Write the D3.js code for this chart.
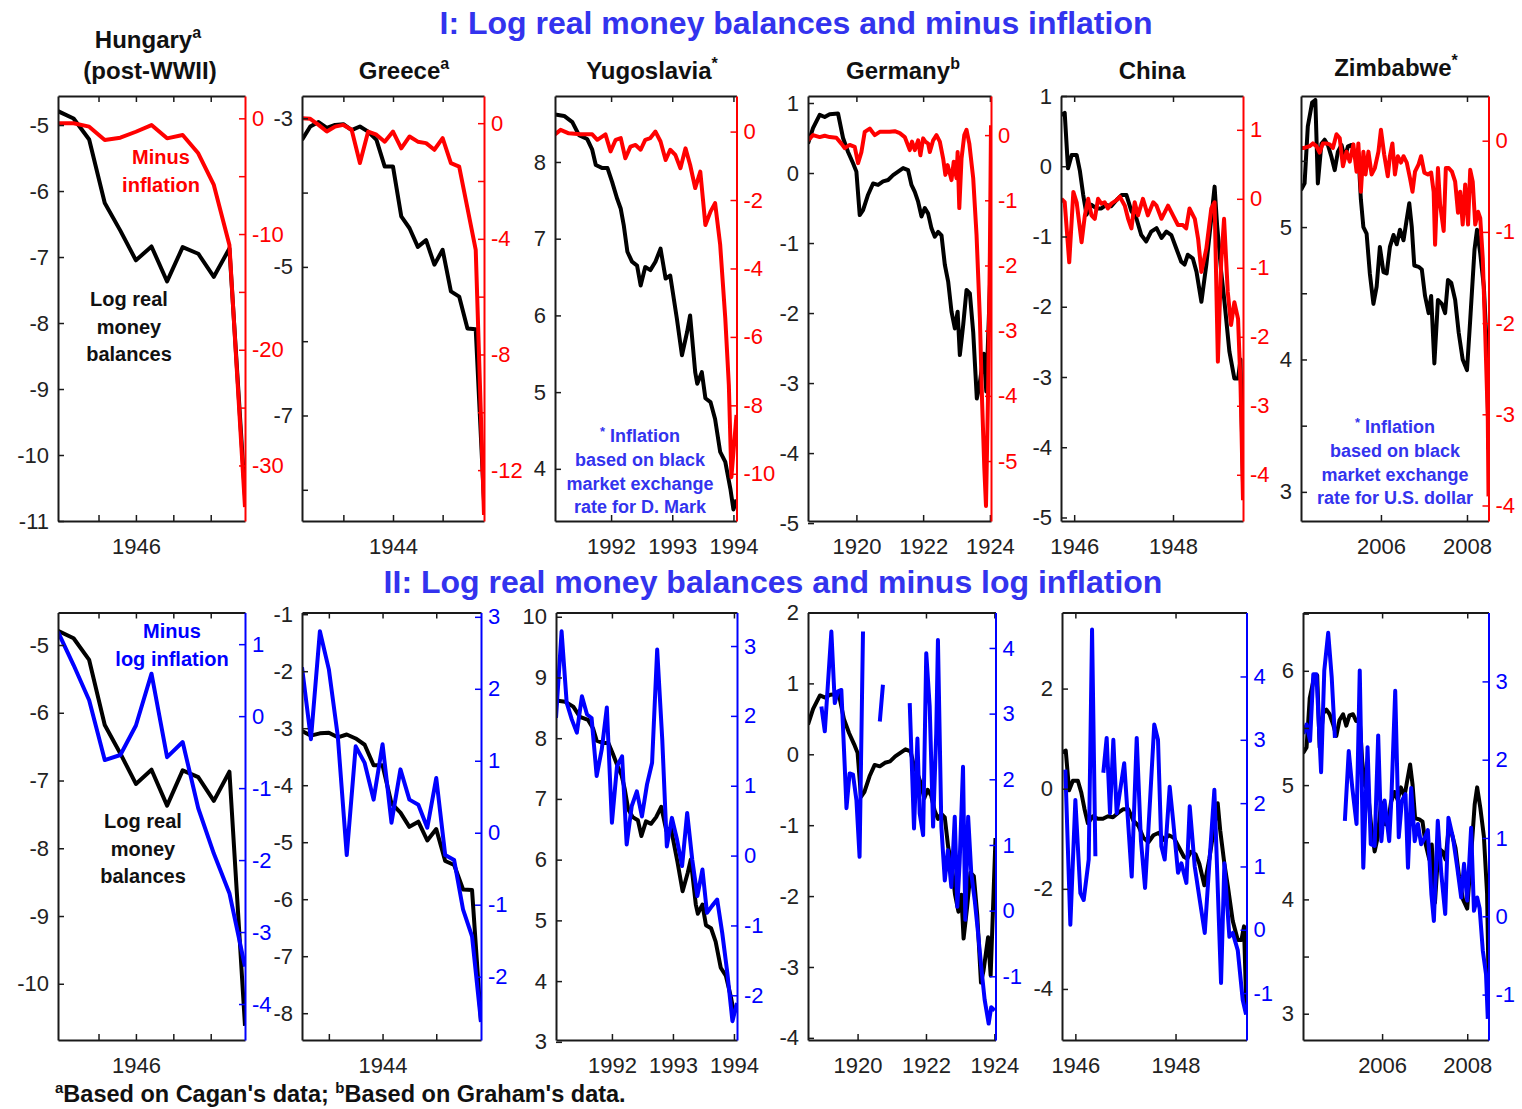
<!DOCTYPE html>
<html><head><meta charset="utf-8">
<script src="https://cdn.jsdelivr.net/npm/d3@7"></script>
<style>
body{margin:0;background:#fff}
svg{display:block}
text{font-family:"Liberation Sans",Arial,Helvetica,sans-serif}
</style>
</head><body>
<svg id="c" width="1522" height="1109"></svg>
<script>
// ---------- DATA (x = months since January of the panel's base year) ----------
// Hungary (base 1945)
const hunMoney = [[7,-4.79],[8,-4.90],[9,-5.22],[10,-6.18],[11,-6.60],[12,-7.05],[13,-6.84],[14,-7.37],[15,-6.85],[16,-6.95],[17,-7.30],[18,-6.87],[19,-10.62]];
const hunInfl = [[7,-0.43],[8,-0.43],[9,-0.72],[10,-1.87],[11,-1.67],[12,-1.16],[13,-0.58],[14,-1.73],[15,-1.44],[16,-3.02],[17,-5.76],[18,-10.95],[19,-33.6]];
const hunLogInfl = [[7,1.17],[8,0.71],[9,0.22],[10,-0.61],[11,-0.54],[12,-0.13],[13,0.59],[14,-0.57],[15,-0.36],[16,-1.28],[17,-1.91],[18,-2.46],[19,-3.48]];
// Greece (base 1943)
const greMoney = [[1,-3.29],[2,-3.11],[3,-3.05],[4,-3.13],[5,-3.09],[6,-3.08],[7,-3.16],[8,-3.11],[9,-3.18],[10,-3.29],[11,-3.65],[12,-3.65],[13,-4.32],[14,-4.48],[15,-4.73],[16,-4.64],[17,-4.97],[18,-4.77],[19,-5.33],[20,-5.40],[21,-5.83],[22,-5.84],[23,-8.15]];
const greInfl = [[1,0.17],[2,0.15],[3,-0.06],[4,-0.29],[5,-0.12],[6,-0.06],[7,-0.23],[8,-1.38],[9,-0.29],[10,-0.40],[11,-0.64],[12,-0.29],[13,-0.87],[14,-0.46],[15,-0.64],[16,-0.69],[17,-0.92],[18,-0.52],[19,-1.38],[20,-1.50],[21,-2.94],[22,-4.38],[23,-13.55]];
const greLogInfl = [[3,2.30],[4,1.30],[5,2.80],[6,2.27],[7,1.34],[8,-0.31],[9,1.20],[10,0.97],[11,0.46],[12,1.23],[13,0.14],[14,0.88],[15,0.46],[16,0.39],[17,0.07],[18,0.76],[19,-0.31],[20,-0.38],[21,-1.07],[22,-1.44],[23,-2.63]];
// Yugoslavia (base 1991)
const yugMoney = [[1,8.62],[2.8,8.60],[4.4,8.52],[5.7,8.35],[7.3,8.30],[8.3,8.16],[9,7.96],[10.3,7.92],[11.3,7.92],[12.2,7.74],[13.2,7.52],[13.9,7.39],[14.5,7.17],[15.2,6.83],[16.1,6.70],[17.1,6.65],[17.8,6.39],[18.7,6.63],[19.7,6.59],[20.7,6.70],[21.7,6.87],[22.7,6.48],[23.6,6.52],[24.9,5.96],[25.9,5.48],[26.9,5.78],[27.5,6.00],[28.5,5.26],[28.9,5.11],[29.8,5.26],[30.5,4.92],[31.5,4.87],[32.4,4.65],[33.4,4.22],[34.4,4.09],[35.4,3.74],[36,3.47],[36.6,3.6]];
const yugInfl = [[1,-0.08],[2.1,0.05],[3.7,-0.05],[6.0,-0.08],[8.3,-0.08],[9.3,-0.24],[10.9,-0.08],[11.9,-0.58],[12.9,-0.24],[13.9,-0.19],[14.8,-0.78],[15.8,-0.44],[16.8,-0.39],[17.8,-0.53],[18.7,-0.24],[19.7,-0.19],[20.7,0.0],[21.7,-0.29],[22.7,-0.83],[23.6,-0.53],[24.6,-0.68],[25.6,-1.07],[26.6,-0.49],[27.5,-0.97],[28.5,-1.65],[29.5,-1.17],[30.5,-2.73],[31.5,-2.34],[32.4,-2.09],[33.4,-3.31],[34.4,-5.46],[35.1,-7.41],[35.6,-10.1],[36.6,-8.28]];
const yugLogInfl = [[1,1.97],[2.1,3.21],[3.1,2.19],[4.1,1.95],[5.1,1.76],[6.1,2.28],[7.1,2.02],[8.0,1.97],[9.0,1.14],[10.0,1.52],[11.0,2.12],[12.0,0.47],[13.0,1.28],[14.0,1.42],[14.9,0.16],[15.9,0.71],[16.9,0.92],[17.9,0.56],[18.9,1.02],[19.9,1.33],[20.9,2.95],[21.9,1.66],[22.8,0.13],[23.8,0.54],[24.8,0.23],[25.8,-0.15],[26.8,0.61],[27.8,-0.06],[28.8,-0.58],[29.8,-0.20],[30.7,-0.82],[31.7,-0.72],[32.7,-0.63],[33.7,-1.11],[34.7,-1.68],[35.7,-2.37],[36.6,-2.11]];
// Germany (base 1918)
const gerMoney = [[6.6,0.42],[8.4,0.64],[10.8,0.83],[12.6,0.80],[14.4,0.84],[17.4,0.85],[19.2,0.50],[21.0,0.30],[22.8,0.14],[24.0,0.02],[25.2,-0.60],[26.4,-0.53],[28.2,-0.31],[30.0,-0.15],[31.8,-0.17],[33.6,-0.12],[35.4,-0.10],[37.2,-0.03],[39.0,0.02],[40.8,0.07],[42.6,0.04],[43.8,-0.17],[45.0,-0.27],[46.2,-0.41],[47.4,-0.62],[48.6,-0.50],[49.8,-0.58],[51.0,-0.79],[52.2,-0.91],[53.4,-0.84],[54.6,-0.89],[55.8,-1.31],[57.0,-1.55],[58.2,-1.98],[59.4,-2.22],[60.4,-1.98],[61.2,-2.60],[62.4,-2.17],[63.6,-1.67],[64.8,-1.72],[66.0,-2.27],[67.3,-3.22],[68.2,-3.05],[69.8,-2.58],[70.7,-3.12],[72.4,-1.18]];
const gerInfl = [[6.6,-0.08],[8.4,0],[10.8,-0.03],[12.6,-0.01],[14.4,-0.03],[16.8,-0.04],[18.6,-0.13],[19.8,-0.20],[21.6,-0.15],[23.4,-0.18],[24.6,-0.43],[25.8,-0.26],[27.0,0.05],[28.8,0.10],[30.6,0],[32.4,0.05],[34.2,0.05],[36.0,0.05],[37.8,0.06],[39.6,0.03],[41.4,-0.03],[43.2,-0.23],[44.0,-0.10],[45.0,-0.23],[46.2,-0.08],[47.0,-0.31],[48.0,-0.05],[48.8,-0.10],[49.8,-0.13],[50.4,-0.26],[51.6,-0.08],[52.8,0],[54.0,-0.10],[55.2,-0.36],[56.0,-0.61],[56.8,-0.46],[57.6,-0.59],[58.2,-0.69],[59.0,-0.41],[60.0,-0.66],[60.4,-0.26],[61.0,-1.12],[61.8,-0.36],[62.8,0],[63.6,0.08],[64.6,-0.13],[66.0,-0.66],[67.2,-1.53],[68.4,-2.81],[69.2,-4.09],[70.0,-5.11],[70.6,-5.69],[71.4,-3.83],[72.0,-1.79],[72.4,0.15]];
const gerLogInfl = [[11.3,3.11],[12.5,2.73],[14.8,4.25],[16.0,3.16],[17.1,3.34],[18.3,3.36],[19.5,2.19],[20.1,1.56],[21.2,2.09],[22.4,2.07],[23.6,1.68],[24.7,0.82],[25.9,4.25],[26.5,null],[31.8,2.88],[32.9,3.44],[33.5,null],[42.3,3.16],[43.8,1.25],[45.0,2.62],[45.8,1.48],[47.0,1.15],[48.1,3.92],[49.3,3.11],[50.5,1.28],[51.6,2.70],[52.2,4.12],[53.4,1.28],[54.6,0.46],[55.7,0.92],[56.9,0.36],[58.1,1.43],[59.0,0.06],[59.8,0.72],[61.0,2.19],[61.8,-0.14],[62.8,1.43],[63.9,0.57],[65.1,0.16],[66.3,-0.35],[67.4,-0.86],[68.6,-1.36],[70.0,-1.72],[70.9,-1.47],[72.1,-1.52]];
// China (base 1945)
const chnMoney = [[8.9,0.73],[9.7,0.76],[10.5,-0.03],[11.4,0.16],[12.6,0.16],[13.4,-0.07],[14.2,-0.41],[15.0,-0.69],[16.2,-0.55],[17.4,-0.60],[18.6,-0.60],[19.8,-0.55],[21.0,-0.57],[22.3,-0.48],[23.5,-0.41],[24.7,-0.41],[25.9,-0.64],[27.1,-0.74],[28.3,-0.98],[29.5,-1.07],[30.7,-0.93],[32.0,-0.88],[33.2,-1.02],[34.4,-0.93],[35.6,-0.98],[36.8,-1.17],[38.0,-1.36],[38.8,-1.40],[39.6,-1.26],[40.8,-1.31],[41.7,-1.50],[42.9,-1.93],[44.1,-1.40],[45.3,-0.74],[46.1,-0.29],[46.7,-0.83],[47.7,-1.50],[48.5,-1.93],[49.7,-2.64],[50.9,-3.02],[51.8,-3.02],[52.4,-2.75],[53,-4.5]];
const chnInfl = [[8.9,0.0],[9.7,-0.05],[10.8,-0.92],[11.8,0.10],[12.6,-0.05],[13.8,-0.63],[14.6,-0.24],[15.4,0.0],[16.2,-0.24],[17.0,-0.29],[17.8,0.0],[18.6,-0.07],[19.4,-0.05],[20.2,-0.14],[21.0,-0.07],[22.3,-0.02],[23.1,0.03],[24.3,-0.10],[25.1,-0.29],[25.9,-0.43],[26.7,-0.05],[27.5,-0.24],[28.7,0.0],[29.9,-0.24],[31.2,-0.05],[32.0,-0.10],[33.2,-0.29],[34.8,-0.10],[36.0,-0.24],[37.2,-0.38],[38.4,-0.38],[39.2,-0.43],[40.0,-0.14],[41.3,-0.29],[42.1,-0.58],[42.9,-1.06],[44.1,-0.72],[45.3,-0.14],[46.1,-0.05],[46.9,-2.36],[47.7,-0.92],[48.4,-0.29],[49.3,-1.35],[50.1,-1.83],[50.9,-1.50],[51.8,-1.74],[52.4,-2.70],[53,-4.37]];
const chnLogInfl = [[9.6,2.53],[10.8,0.08],[12.0,2.05],[13.2,0.58],[14.0,0.47],[15.2,1.11],[16.0,4.74],[16.8,1.16],[17.5,null],[18.7,2.48],[19.5,3.03],[20.3,1.84],[21.1,3.0],[21.9,1.84],[23.7,2.63],[25.5,0.84],[26.7,3.03],[27.7,1.42],[28.7,0.66],[29.9,2.05],[30.9,3.24],[31.8,3.0],[32.6,1.32],[33.4,1.11],[34.6,2.26],[35.4,1.74],[36.6,0.90],[37.4,1.05],[38.6,0.74],[39.4,1.95],[40.6,1.0],[41.8,0.47],[43.0,-0.05],[44.1,1.05],[45.3,2.21],[46.9,-0.84],[47.7,1.05],[48.9,-0.11],[49.7,-0.05],[50.9,-0.32],[52.1,-1.11],[52.9,-1.34]];
// Zimbabwe (base 2004)
const zimMoney = [[1.7,5.28],[2.7,5.33],[3.6,5.76],[4.8,5.94],[5.7,5.96],[6.4,5.33],[7.4,5.63],[8.3,5.66],[9.2,5.62],[10.2,5.53],[11.1,5.43],[12.0,5.57],[13.0,5.62],[13.9,5.52],[14.8,5.61],[15.8,5.62],[16.7,5.56],[17.7,5.56],[18.4,5.21],[19.1,5.00],[20.0,4.95],[20.9,4.65],[21.9,4.42],[22.8,4.55],[23.7,4.85],[24.7,4.66],[25.6,4.65],[26.5,4.85],[27.5,4.94],[28.4,4.87],[29.3,4.98],[30.3,4.90],[31.2,5.06],[31.9,5.18],[32.6,5.00],[33.3,4.71],[34.5,4.70],[35.4,4.68],[36.3,4.48],[37.3,4.35],[38.0,4.48],[38.9,3.97],[39.9,4.45],[41.0,4.42],[41.9,4.35],[42.7,4.60],[43.6,4.58],[44.7,4.45],[45.7,4.20],[46.8,4.00],[48.0,3.92],[48.9,4.30],[50.1,4.83],[50.8,4.98],[51.7,4.80],[52.7,4.55],[53.6,4.05],[54,3.32]];
const zimInfl = [[1.7,-0.08],[2.7,-0.08],[4.1,-0.06],[5.0,-0.03],[6.0,-0.06],[6.9,-0.13],[7.8,-0.03],[8.8,-0.03],[9.7,-0.04],[10.6,-0.08],[11.6,0.07],[12.5,0.03],[13.4,-0.28],[14.4,-0.12],[15.3,-0.23],[16.3,-0.04],[17.2,-0.34],[17.7,-0.03],[18.4,-0.56],[19.1,-0.12],[19.7,-0.37],[20.5,-0.12],[21.4,-0.37],[22.3,-0.30],[23.3,-0.12],[24.0,0.12],[24.9,-0.15],[25.9,-0.39],[26.5,-0.17],[27.2,-0.03],[27.9,-0.37],[28.7,-0.17],[29.6,-0.24],[30.3,-0.17],[31.2,-0.24],[32.1,-0.41],[32.8,-0.56],[33.5,-0.34],[34.5,-0.26],[35.2,-0.17],[36.1,-0.35],[37.1,-0.37],[38.0,-0.35],[38.7,-0.56],[39.1,-1.14],[39.9,-0.30],[40.5,-0.70],[41.5,-0.99],[42.1,-0.30],[42.9,-0.30],[43.8,-0.34],[44.7,-0.45],[45.5,-0.79],[46.1,-0.56],[46.8,-0.92],[47.5,-0.48],[48.3,-0.92],[48.9,-0.32],[49.6,-0.45],[50.3,-0.92],[51.1,-0.78],[51.7,-0.85],[52.4,-1.29],[53.1,-2.13],[53.8,-3.04],[54,-3.90]];
const zimLogInfl = [[1.8,2.33],[2.7,2.45],[3.7,2.24],[4.6,3.09],[5.5,3.09],[6.8,1.84],[7.7,3.14],[8.8,3.62],[9.8,3.05],[10.7,2.28],[11.5,null],[13.5,1.22],[14.6,2.11],[15.6,1.64],[16.8,1.18],[17.7,3.14],[18.7,0.62],[19.9,2.16],[20.8,0.92],[21.9,0.90],[22.9,2.31],[23.8,0.96],[24.7,1.48],[26.0,0.96],[26.6,1.48],[27.7,2.88],[28.7,1.01],[29.6,1.48],[30.6,1.56],[31.3,0.62],[32.2,1.64],[33.2,0.96],[34.1,1.18],[35.0,0.92],[36.0,1.0],[36.9,1.1],[37.9,0.28],[38.6,-0.06],[39.7,1.22],[40.7,0.54],[41.8,0.03],[42.7,1.26],[44.0,1.0],[45.2,0.62],[46.3,0.24],[47.1,0.67],[48.0,0.2],[49.1,1.13],[49.9,0.07],[50.8,0.24],[51.5,0.1],[52.4,-0.44],[53.3,-0.74],[53.8,-1.31]];

// ---------- TICKS & LABELS ----------
const hunXTicks = [9.6, 12, 14.4, 16.8], hunXText = ['', '1946', '', ''];
const greXTicks = [6, 12, 18], greXText = ['', '1944', ''];
const yugXTicks = [12, 24, 36], yugXText = ['1992', '1993', '1994'];
const gerXTicks = [24, 48, 72], gerXText = ['1920', '1922', '1924'];
const chnXTicks = [12, 36], chnXText = ['1946', '1948'];
const zimXTicks = [24, 48], zimXText = ['2006', '2008'];

const titles = ['Hungary', 'Greece', 'Yugoslavia', 'Germany', 'China', 'Zimbabwe'];
const titleSup = ['a', 'a', '*', 'b', '', '*'];
const rowTitles = ['I: Log real money balances and minus inflation', 'II: Log real money balances and minus log inflation'];

const RED = '#ff0000', BLUE = '#0000ff', AX = '#1a1a1a', TXTBLUE = '#3333ee';
const rng = (a, b, s) => d3.range(a, b + s / 2, s);

// ---------- PANEL SETUP ----------
const rows = [{y0: 96, y1: 521}, {y0: 612.5, y1: 1040}];
const panels = [
  {row:0, x0:58, x1:245, xDom:[7,19], xt:hunXTicks, xs:hunXText, lDom:[-11,-4.56], lT:rng(-11,-5,1), lL:rng(-11,-5,1), rDom:[-34.8,1.93], rT:rng(-30,0,5), rL:[-30,-20,-10,0], col:RED, a:hunMoney, b:hunInfl},
  {row:0, x0:302, x1:484, xDom:[1,23], xt:greXTicks, xs:greXText, lDom:[-8.42,-2.70], lT:rng(-8,-3,1), lL:[-7,-5,-3], rDom:[-13.76,0.94], rT:rng(-12,0,2), rL:[-12,-8,-4,0], col:RED, a:greMoney, b:greInfl},
  {row:0, x0:555, x1:736.5, xDom:[1,36.6], xt:yugXTicks, xs:yugXText, lDom:[3.32,8.86], lT:rng(4,8,1), lL:rng(4,8,1), rDom:[-11.38,1.04], rT:rng(-10,0,2), rL:rng(-10,0,2), col:RED, a:yugMoney, b:yugInfl},
  {row:0, x0:808, x1:991, xDom:[6.6,72.4], xt:gerXTicks, xs:gerXText, lDom:[-4.97,1.10], lT:rng(-5,1,1), lL:rng(-5,1,1), rDom:[-5.92,0.60], rT:rng(-5,0,1), rL:rng(-5,0,1), col:RED, a:gerMoney, b:gerInfl},
  {row:0, x0:1061, x1:1243, xDom:[8.8,53], xt:chnXTicks, xs:chnXText, lDom:[-5.05,1.0], lT:rng(-5,1,1), lL:rng(-5,1,1), rDom:[-4.67,1.49], rT:rng(-4,1,1), rL:rng(-4,1,1), col:RED, a:chnMoney, b:chnInfl},
  {row:0, x0:1301, x1:1488.5, xDom:[1.7,54], xt:zimXTicks, xs:zimXText, lDom:[2.78,5.99], lT:rng(3,5.5,0.5), lL:[3,4,5,6], rDom:[-4.17,0.49], rT:rng(-4,0,1), rL:rng(-4,0,1), col:RED, a:zimMoney, b:zimInfl},

  {row:1, x0:58, x1:245, xDom:[7,19], xt:hunXTicks, xs:hunXText, lDom:[-10.83,-4.52], lT:rng(-10,-5,1), lL:rng(-10,-5,1), rDom:[-4.5,1.44], rT:rng(-4,1,1), rL:rng(-4,1,1), col:BLUE, a:hunMoney, b:hunLogInfl},
  {row:1, x0:302, x1:481, xDom:[3,23], xt:greXTicks, xs:greXText, lDom:[-8.47,-0.97], lT:rng(-8,-1,1), lL:rng(-8,-1,1), rDom:[-2.88,3.06], rT:rng(-2,3,1), rL:rng(-2,3,1), col:BLUE, a:greMoney, b:greLogInfl},
  {row:1, x0:556, x1:737, xDom:[1,36.6], xt:yugXTicks, xs:yugXText, lDom:[3.03,10.07], lT:rng(3,10,1), lL:rng(3,10,1), rDom:[-2.64,3.48], rT:rng(-2,3,1), rL:rng(-2,3,1), col:BLUE, a:yugMoney, b:yugLogInfl},
  {row:1, x0:808, x1:995.5, xDom:[6.6,72.4], xt:gerXTicks, xs:gerXText, lDom:[-4.03,2.0], lT:rng(-4,2,1), lL:rng(-4,2,1), rDom:[-1.97,4.54], rT:rng(-1,4,1), rL:rng(-1,4,1), col:BLUE, a:gerMoney, b:gerLogInfl},
  {row:1, x0:1062, x1:1246.5, xDom:[8.8,53], xt:chnXTicks, xs:chnXText, lDom:[-5.02,3.52], lT:[-4,-2,0,2], lL:[-4,-2,0,2], rDom:[-1.74,5.01], rT:rng(-1,4,1), rL:rng(-1,4,1), col:BLUE, a:chnMoney, b:chnLogInfl},
  {row:1, x0:1303, x1:1488.5, xDom:[1.7,54], xt:zimXTicks, xs:zimXText, lDom:[2.77,6.51], lT:rng(3,6.5,0.5), lL:[3,4,5,6], rDom:[-1.58,3.88], rT:rng(-1,3,1), rL:rng(-1,3,1), col:BLUE, a:zimMoney, b:zimLogInfl}
];

const svg = d3.select('#c');
const FS = 22;

panels.forEach((p, i) => {
  const r = rows[p.row];
  const x = d3.scaleLinear().domain(p.xDom).range([p.x0, p.x1]);
  const yl = d3.scaleLinear().domain(p.lDom).range([r.y1, r.y0]);
  const yr = d3.scaleLinear().domain(p.rDom).range([r.y1, r.y0]);
  const cid = 'clip' + i;
  svg.append('clipPath').attr('id', cid).append('rect')
    .attr('x', p.x0).attr('y', r.y0).attr('width', p.x1 - p.x0).attr('height', r.y1 - r.y0);
  const g = svg.append('g');
  const lineL = d3.line().defined(d => d[1] != null).x(d => x(d[0])).y(d => yl(d[1]));
  const lineR = d3.line().defined(d => d[1] != null).x(d => x(d[0])).y(d => yr(d[1]));
  g.append('path').datum(p.a).attr('d', lineL).attr('fill', 'none').attr('stroke', '#000')
    .attr('stroke-width', 4).attr('stroke-linejoin', 'round').attr('clip-path', `url(#${cid})`);
  g.append('path').datum(p.b).attr('d', lineR).attr('fill', 'none').attr('stroke', p.col)
    .attr('stroke-width', 4).attr('stroke-linejoin', 'round').attr('clip-path', `url(#${cid})`);

  const style = (sel, color) => {
    sel.attr('font-size', FS).attr('font-family', '"Liberation Sans",Arial,sans-serif').attr('color', color);
    sel.select('.domain').attr('stroke-width', 2);
    sel.selectAll('.tick line').attr('stroke-width', 1.5);
  };
  // bottom & top x axes
  const xb = g.append('g').attr('transform', `translate(0,${r.y1})`)
    .call(d3.axisBottom(x).tickValues(p.xt).tickSize(-6).tickSizeOuter(0).tickPadding(17)
      .tickFormat((d, k) => p.xs[k]));
  style(xb, AX);
  xb.selectAll('text').attr('fill', '#222');
  const xt = g.append('g').attr('transform', `translate(0,${r.y0})`)
    .call(d3.axisTop(x).tickValues(p.xt).tickSize(-6).tickSizeOuter(0).tickFormat(''));
  style(xt, AX);
  // left axis
  const la = g.append('g').attr('transform', `translate(${p.x0},0)`)
    .call(d3.axisLeft(yl).tickValues(p.lT).tickSize(-6).tickSizeOuter(0).tickPadding(9)
      .tickFormat(v => p.lL.includes(v) ? String(v) : ''));
  style(la, AX);
  la.selectAll('text').attr('fill', '#222');
  // right axis
  const ra = g.append('g').attr('transform', `translate(${p.x1},0)`)
    .call(d3.axisRight(yr).tickValues(p.rT).tickSize(-6).tickSizeOuter(0).tickPadding(7)
      .tickFormat(v => p.rL.includes(v) ? String(v) : ''));
  style(ra, p.col);
});

// ---------- TITLES ----------
const bold = sel => sel.attr('font-weight', 'bold');
svg.append('text').attr('x', 796).attr('y', 34).attr('text-anchor', 'middle')
  .attr('font-size', 32).attr('fill', TXTBLUE).call(bold).text(rowTitles[0]);
svg.append('text').attr('x', 773).attr('y', 593).attr('text-anchor', 'middle')
  .attr('font-size', 32).attr('fill', TXTBLUE).call(bold).text(rowTitles[1]);

const titleX = [148, 404, 652, 903, 1152, 1396];
const titleY = [48, 79, 79, 79, 79, 76];
titles.forEach((t, i) => {
  const tx = svg.append('text').attr('x', titleX[i]).attr('y', titleY[i]).attr('text-anchor', 'middle')
    .attr('font-size', 24).attr('fill', '#111').call(bold);
  tx.append('tspan').text(t);
  if (titleSup[i]) tx.append('tspan').attr('dy', -10).attr('font-size', 16).text(titleSup[i]);
});
svg.append('text').attr('x', 150).attr('y', 79).attr('text-anchor', 'middle')
  .attr('font-size', 24).attr('fill', '#111').call(bold).text('(post-WWII)');

// ---------- ANNOTATIONS ----------
function lines(arr, cx, y0, dy, fs, color) {
  arr.forEach((s, k) => svg.append('text').attr('x', cx).attr('y', y0 + k * dy).attr('text-anchor', 'middle')
    .attr('font-size', fs).attr('fill', color).call(bold).text(s));
}
lines(['Minus', 'inflation'], 161, 164, 28, 20, RED);
lines(['Log real', 'money', 'balances'], 129, 306, 27.5, 20, '#111');
lines(['Minus', 'log inflation'], 172, 638, 28, 20, BLUE);
lines(['Log real', 'money', 'balances'], 143, 828, 27.5, 20, '#111');

function note(cx, y0, rest) {
  const t = svg.append('text').attr('x', cx).attr('y', y0).attr('text-anchor', 'middle')
    .attr('font-size', 18).attr('fill', TXTBLUE).call(bold);
  t.append('tspan').attr('font-size', 13).attr('dy', -6).text('*');
  t.append('tspan').attr('dy', 6).text(' Inflation');
  lines(rest, cx, y0 + 24, 23.7, 18, TXTBLUE);
}
note(640, 442, ['based on black', 'market exchange', 'rate for D. Mark']);
note(1395, 433, ['based on black', 'market exchange', 'rate for U.S. dollar']);

// footnote
const fn = svg.append('text').attr('x', 55).attr('y', 1102).attr('font-size', 23.5).attr('fill', '#111').call(bold);
fn.append('tspan').attr('font-size', 15).attr('dy', -9).text('a');
fn.append('tspan').attr('dy', 9).text("Based on Cagan's data; ");
fn.append('tspan').attr('font-size', 15).attr('dy', -9).text('b');
fn.append('tspan').attr('dy', 9).text("Based on Graham's data.");
</script>
</body></html>
